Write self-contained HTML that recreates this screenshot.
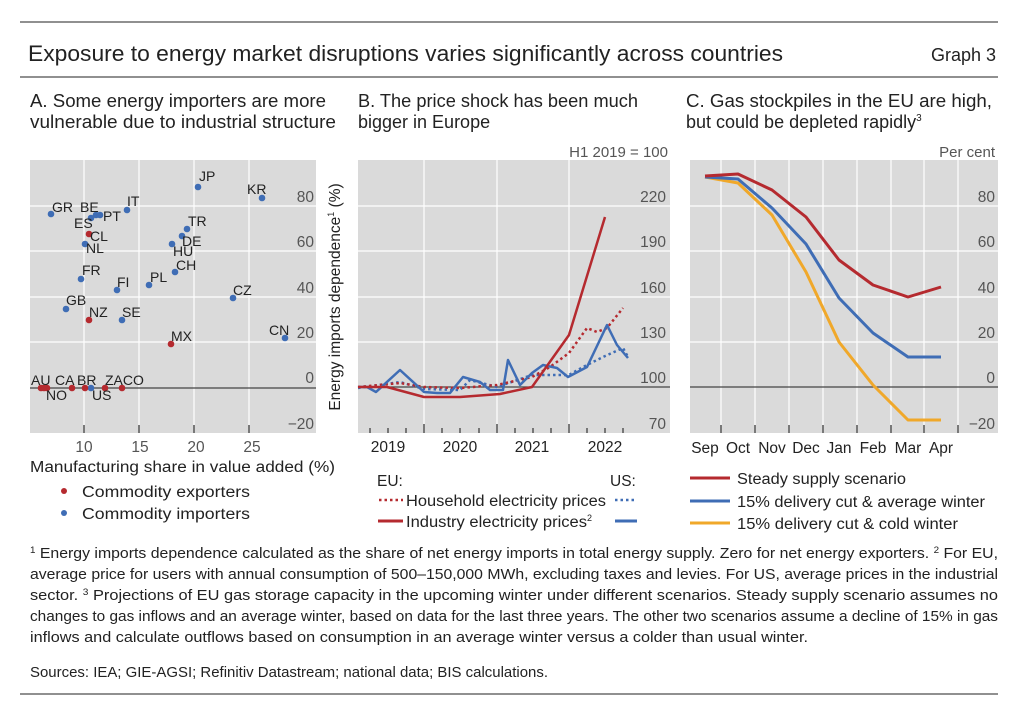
<!DOCTYPE html>
<html><head><meta charset="utf-8"><style>
body{margin:0;background:#fff}
svg{display:block;font-family:"Liberation Sans",sans-serif}
.t{fill:#222}
.g{fill:#555}
</style></head><body>
<svg width="1024" height="711" viewBox="0 0 1024 711">
<line x1="20" y1="22" x2="998" y2="22" stroke="#222" stroke-width="1"/>
<text x="28" y="61" font-size="22" class="t" textLength="755" lengthAdjust="spacingAndGlyphs">Exposure to energy market disruptions varies significantly across countries</text>
<text x="996" y="61" font-size="18" class="t" text-anchor="end">Graph 3</text>
<line x1="20" y1="77" x2="998" y2="77" stroke="#222" stroke-width="1"/>

<g font-size="18" class="t">
<text x="30" y="107" textLength="296" lengthAdjust="spacingAndGlyphs">A. Some energy importers are more</text>
<text x="30" y="128" textLength="306" lengthAdjust="spacingAndGlyphs">vulnerable due to industrial structure</text>
<text x="358" y="107" textLength="280" lengthAdjust="spacingAndGlyphs">B. The price shock has been much</text>
<text x="358" y="128">bigger in Europe</text>
<text x="686" y="107" textLength="306" lengthAdjust="spacingAndGlyphs">C. Gas stockpiles in the EU are high,</text>
<text x="686" y="128">but could be depleted rapidly<tspan font-size="10" dy="-7">3</tspan></text>
</g>
<text x="668" y="157" font-size="15" class="g" text-anchor="end">H1 2019 = 100</text>
<text x="995" y="157" font-size="15" class="g" text-anchor="end">Per cent</text>

<!-- Panel A -->
<rect x="30" y="160" width="286" height="273" fill="#dadada"/>
<g stroke="#fff" stroke-width="1.2">
<line x1="30" x2="316" y1="206" y2="206"/><line x1="30" x2="316" y1="251" y2="251"/><line x1="30" x2="316" y1="297" y2="297"/><line x1="30" x2="316" y1="342" y2="342"/>
<line x1="84" x2="84" y1="160" y2="433"/><line x1="139" x2="139" y1="160" y2="433"/><line x1="194" x2="194" y1="160" y2="433"/><line x1="249" x2="249" y1="160" y2="433"/>
</g>
<line x1="30" x2="316" y1="388" y2="388" stroke="#444" stroke-width="1.2"/>
<g stroke="#333" stroke-width="1.2"><line x1="84" x2="84" y1="425" y2="433"/><line x1="139" x2="139" y1="425" y2="433"/><line x1="194" x2="194" y1="425" y2="433"/><line x1="249" x2="249" y1="425" y2="433"/></g>
<g font-size="15.5" class="g" text-anchor="end">
<text x="314" y="202">80</text><text x="314" y="247">60</text><text x="314" y="293">40</text><text x="314" y="338">20</text><text x="314" y="383">0</text><text x="314" y="429">−20</text>
</g>
<text transform="translate(340,297) rotate(-90)" font-size="15.5" class="t" text-anchor="middle">Energy imports dependence<tspan font-size="9" dy="-6">1</tspan><tspan dy="6"> (%)</tspan></text>
<g fill="#3f6db5">
<circle cx="51" cy="214" r="3.3"/><circle cx="198" cy="187" r="3.3"/><circle cx="262" cy="198" r="3.3"/><circle cx="127" cy="210" r="3.3"/><circle cx="96" cy="215" r="3.3"/><circle cx="100" cy="215" r="3.3"/><circle cx="91" cy="218" r="3.3"/><circle cx="85" cy="244" r="3.3"/><circle cx="187" cy="229" r="3.3"/><circle cx="182" cy="236" r="3.3"/><circle cx="172" cy="244" r="3.3"/><circle cx="175" cy="272" r="3.3"/><circle cx="149" cy="285" r="3.3"/><circle cx="117" cy="290" r="3.3"/><circle cx="81" cy="279" r="3.3"/><circle cx="233" cy="298" r="3.3"/><circle cx="66" cy="309" r="3.3"/><circle cx="122" cy="320" r="3.3"/><circle cx="285" cy="338" r="3.3"/><circle cx="91" cy="388" r="3.3"/>
</g>
<g fill="#b52a2f">
<circle cx="89" cy="234" r="3.3"/><circle cx="89" cy="320" r="3.3"/><circle cx="171" cy="344" r="3.3"/><circle cx="41" cy="388" r="3.3"/><circle cx="44" cy="388" r="3.3"/><circle cx="47" cy="388" r="3.3"/><circle cx="72" cy="388" r="3.3"/><circle cx="85" cy="388" r="3.3"/><circle cx="105" cy="388" r="3.3"/><circle cx="122" cy="388" r="3.3"/>
</g>
<g font-size="14" class="t">
<text x="52" y="212">GR</text><text x="199" y="181">JP</text><text x="247" y="194">KR</text><text x="127" y="206">IT</text><text x="80" y="212">BE</text><text x="103" y="221">PT</text><text x="74" y="228">ES</text><text x="90" y="241">CL</text><text x="86" y="253">NL</text><text x="188" y="226">TR</text><text x="182" y="246">DE</text><text x="173" y="256">HU</text><text x="176" y="270">CH</text><text x="150" y="282">PL</text><text x="117" y="287">FI</text><text x="82" y="275">FR</text><text x="233" y="295">CZ</text><text x="66" y="305">GB</text><text x="89" y="317">NZ</text><text x="122" y="317">SE</text><text x="171" y="341">MX</text><text x="269" y="335">CN</text>
<text x="31" y="385">AU</text><text x="55" y="385">CA</text><text x="77" y="385">BR</text><text x="105" y="385">ZACO</text><text x="46" y="400">NO</text><text x="92" y="400">US</text>
</g>
<g font-size="15.5" class="g" text-anchor="middle"><text x="84" y="452">10</text><text x="140" y="452">15</text><text x="196" y="452">20</text><text x="252" y="452">25</text></g>
<text x="30" y="472" font-size="15.5" class="t" textLength="305" lengthAdjust="spacingAndGlyphs">Manufacturing share in value added (%)</text>
<circle cx="64" cy="491" r="3" fill="#b52a2f"/><text x="82" y="497" font-size="15.5" class="t" textLength="168" lengthAdjust="spacingAndGlyphs">Commodity exporters</text>
<circle cx="64" cy="513" r="3" fill="#3f6db5"/><text x="82" y="519" font-size="15.5" class="t" textLength="168" lengthAdjust="spacingAndGlyphs">Commodity importers</text>

<!-- Panel B -->
<rect x="358" y="160" width="312" height="273" fill="#dadada"/>
<g stroke="#fff" stroke-width="1.2">
<line x1="358" x2="670" y1="206" y2="206"/><line x1="358" x2="670" y1="251" y2="251"/><line x1="358" x2="670" y1="297" y2="297"/><line x1="358" x2="670" y1="342" y2="342"/>
<line x1="424" x2="424" y1="160" y2="433"/><line x1="497" x2="497" y1="160" y2="433"/><line x1="569" x2="569" y1="160" y2="433"/>
</g>
<line x1="358" x2="670" y1="387" y2="387" stroke="#444" stroke-width="1.2"/>
<g stroke="#333" stroke-width="1.2">
<line x1="424" x2="424" y1="424" y2="433"/><line x1="497" x2="497" y1="424" y2="433"/><line x1="569" x2="569" y1="424" y2="433"/>
<line x1="370" x2="370" y1="428" y2="433"/><line x1="388" x2="388" y1="428" y2="433"/><line x1="406" x2="406" y1="428" y2="433"/><line x1="442" x2="442" y1="428" y2="433"/><line x1="460" x2="460" y1="428" y2="433"/><line x1="479" x2="479" y1="428" y2="433"/><line x1="515" x2="515" y1="428" y2="433"/><line x1="533" x2="533" y1="428" y2="433"/><line x1="551" x2="551" y1="428" y2="433"/><line x1="587" x2="587" y1="428" y2="433"/><line x1="605" x2="605" y1="428" y2="433"/><line x1="623" x2="623" y1="428" y2="433"/>
</g>
<g font-size="15.5" class="g" text-anchor="end">
<text x="666" y="202">220</text><text x="666" y="247">190</text><text x="666" y="293">160</text><text x="666" y="338">130</text><text x="666" y="383">100</text><text x="666" y="429">70</text>
</g>
<g font-size="15.5" class="t" text-anchor="middle"><text x="388" y="452">2019</text><text x="460" y="452">2020</text><text x="532" y="452">2021</text><text x="605" y="452">2022</text></g>
<g fill="none" stroke-linejoin="round">
<polyline stroke="#3f6db5" stroke-width="2.5" stroke-dasharray="2.5 3" points="358,388 400,382 424,389 460,390 470,380 497,387 532,375 569,375 583,367 603,357 623,348 628,357"/>
<polyline stroke="#b52a2f" stroke-width="2.5" stroke-dasharray="2.5 3" points="358,387 400,383 424,387 460,388 497,385 532,377 550,367 569,353 587,328 597,332 607,328 623,308"/>
<polyline stroke="#3f6db5" stroke-width="2.5" points="358,387 367,387 376,392 400,370 424,392 437,393 450,393 463,377 480,382 490,390 503,390 508,360 520,385 532,373 543,365 557,368 568,377 587,367 607,325 617,345 628,358"/>
<polyline stroke="#b52a2f" stroke-width="2.5" points="358,387 387,387 424,397 460,397 500,394 532,387 569,335 605,217"/>
</g>
<g font-size="15.5" class="t">
<text x="377" y="486">EU:</text><text x="610" y="486">US:</text>
<text x="406" y="506" textLength="200" lengthAdjust="spacingAndGlyphs">Household electricity prices</text>
<text x="406" y="527"><tspan textLength="181" lengthAdjust="spacingAndGlyphs">Industry electricity prices</tspan><tspan font-size="9" dy="-6">2</tspan></text>
</g>
<line x1="379" x2="403" y1="500" y2="500" stroke="#b52a2f" stroke-width="2.5" stroke-dasharray="2.5 3"/>
<line x1="615" x2="637" y1="500" y2="500" stroke="#3f6db5" stroke-width="2.5" stroke-dasharray="2.5 3"/>
<line x1="378" x2="403" y1="521" y2="521" stroke="#b52a2f" stroke-width="3"/>
<line x1="615" x2="637" y1="521" y2="521" stroke="#3f6db5" stroke-width="3"/>

<!-- Panel C -->
<rect x="690" y="160" width="308" height="273" fill="#dadada"/>
<g stroke="#fff" stroke-width="1.2">
<line x1="690" x2="998" y1="206" y2="206"/><line x1="690" x2="998" y1="251" y2="251"/><line x1="690" x2="998" y1="297" y2="297"/><line x1="690" x2="998" y1="342" y2="342"/>
<line x1="721" x2="721" y1="160" y2="433"/><line x1="755" x2="755" y1="160" y2="433"/><line x1="789" x2="789" y1="160" y2="433"/><line x1="823" x2="823" y1="160" y2="433"/><line x1="857" x2="857" y1="160" y2="433"/><line x1="891" x2="891" y1="160" y2="433"/><line x1="924" x2="924" y1="160" y2="433"/><line x1="958" x2="958" y1="160" y2="433"/>
</g>
<line x1="690" x2="998" y1="387" y2="387" stroke="#444" stroke-width="1.2"/>
<g stroke="#333" stroke-width="1.2"><line x1="721" x2="721" y1="425" y2="433"/><line x1="755" x2="755" y1="425" y2="433"/><line x1="789" x2="789" y1="425" y2="433"/><line x1="823" x2="823" y1="425" y2="433"/><line x1="857" x2="857" y1="425" y2="433"/><line x1="891" x2="891" y1="425" y2="433"/><line x1="924" x2="924" y1="425" y2="433"/><line x1="958" x2="958" y1="425" y2="433"/></g>
<g font-size="15.5" class="g" text-anchor="end">
<text x="995" y="202">80</text><text x="995" y="247">60</text><text x="995" y="293">40</text><text x="995" y="338">20</text><text x="995" y="383">0</text><text x="995" y="429">−20</text>
</g>
<g font-size="15.5" class="t" text-anchor="middle"><text x="705" y="453">Sep</text><text x="738" y="453">Oct</text><text x="772" y="453">Nov</text><text x="806" y="453">Dec</text><text x="839" y="453">Jan</text><text x="873" y="453">Feb</text><text x="908" y="453">Mar</text><text x="941" y="453">Apr</text></g>
<g fill="none" stroke-width="3" stroke-linejoin="round">
<polyline stroke="#f0a82a" points="705,177 738,183 772,215 806,272 839,342 873,385 908,420 941,420"/>
<polyline stroke="#3f6db5" points="705,177 738,179 772,208 806,244 839,298 873,333 908,357 941,357"/>
<polyline stroke="#b52a2f" points="705,176 738,174 772,190 806,217 839,260 873,285 908,297 941,287"/>
</g>
<line x1="690" x2="730" y1="478" y2="478" stroke="#b52a2f" stroke-width="3"/>
<line x1="690" x2="730" y1="501" y2="501" stroke="#3f6db5" stroke-width="3"/>
<line x1="690" x2="730" y1="523" y2="523" stroke="#f0a82a" stroke-width="3"/>
<g font-size="15.5" class="t"><text x="737" y="484" textLength="169" lengthAdjust="spacingAndGlyphs">Steady supply scenario</text><text x="737" y="507" textLength="248" lengthAdjust="spacingAndGlyphs">15% delivery cut &amp; average winter</text><text x="737" y="529" textLength="221" lengthAdjust="spacingAndGlyphs">15% delivery cut &amp; cold winter</text></g>

<!-- Footnotes -->
<g font-size="14.5" class="t">
<text x="30" y="558" textLength="968" lengthAdjust="spacingAndGlyphs"><tspan font-size="9" dy="-5">1</tspan><tspan dy="5">  Energy imports dependence calculated as the share of net energy imports in total energy supply. Zero for net energy exporters.   </tspan><tspan font-size="9" dy="-5">2</tspan><tspan dy="5">  For EU,</tspan></text>
<text x="30" y="579" textLength="968" lengthAdjust="spacingAndGlyphs">average price for users with annual consumption of 500–150,000 MWh, excluding taxes and levies. For US, average prices in the industrial</text>
<text x="30" y="600" textLength="968" lengthAdjust="spacingAndGlyphs">sector.   <tspan font-size="9" dy="-5">3</tspan><tspan dy="5">  Projections of EU gas storage capacity in the upcoming winter under different scenarios. Steady supply scenario assumes no</tspan></text>
<text x="30" y="621" textLength="968" lengthAdjust="spacingAndGlyphs">changes to gas inflows and an average winter, based on data for the last three years. The other two scenarios assume a decline of 15% in gas</text>
<text x="30" y="642" textLength="778" lengthAdjust="spacingAndGlyphs">inflows and calculate outflows based on consumption in an average winter versus a colder than usual winter.</text>
<text x="30" y="677" textLength="518" lengthAdjust="spacingAndGlyphs">Sources: IEA; GIE-AGSI; Refinitiv Datastream; national data; BIS calculations.</text>
</g>
<line x1="20" y1="694" x2="998" y2="694" stroke="#222" stroke-width="1"/>
</svg>
</body></html>
